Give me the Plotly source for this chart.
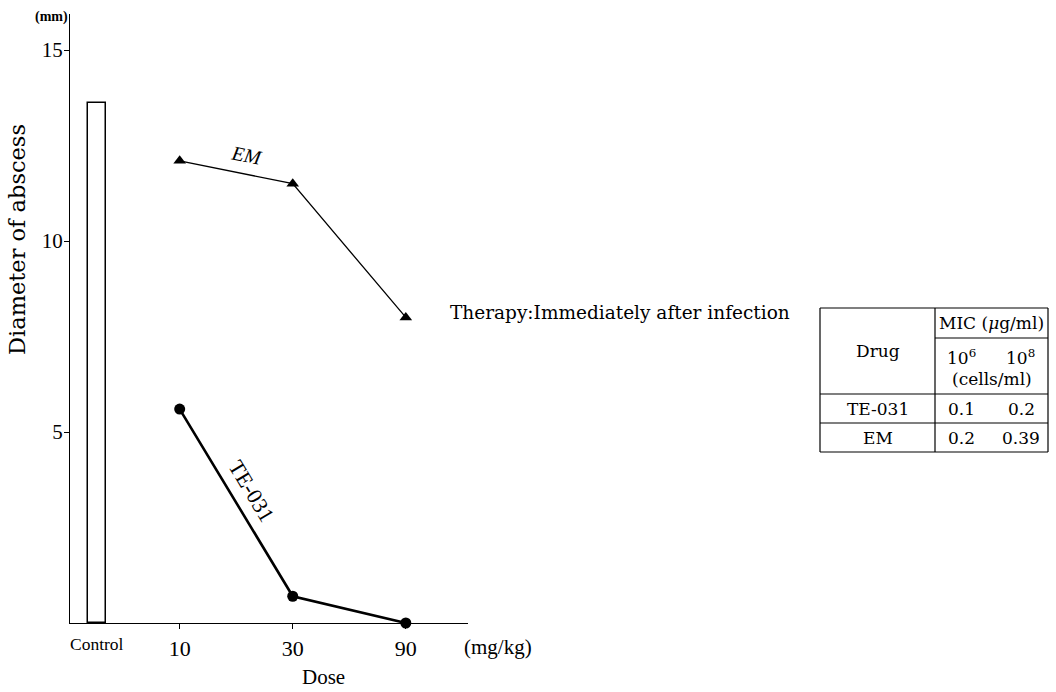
import plotly.graph_objects as go

# ---- data -------------------------------------------------------------
dose_labels = ["10", "30", "90"]          # mg/kg
dose_pos = [1, 2, 3]                      # evenly spaced dose categories
em_diam = [12.1, 11.5, 8.0]               # EM, diameter of abscess (mm)
te031_diam = [5.6, 0.7, 0.0]              # TE-031, diameter of abscess (mm)
control_pos = [0.265]
control_diam = [13.6]

y_ticks = [5, 10, 15]

table_drugs = ["TE-031", "EM"]
mic_1e6 = ["0.1", "0.2"]
mic_1e8 = ["0.2", "0.39"]

SERIF = "Liberation Serif, Times New Roman, serif"
WIDE = "DejaVu Serif, serif"

# ---- page geometry (pixels) -------------------------------------------
W, H = 1056, 692
ML, MR, MT, MB = 70, 6, 14, 69
PW, PH = W - ML - MR, H - MT - MB


def px(x):
    return (x - ML) / PW


def py(y):
    return (H - MB - y) / PH


fig = go.Figure()

fig.add_trace(go.Bar(
    x=control_pos, y=control_diam, width=0.16,
    marker=dict(color="white", line=dict(color="black", width=1.5)),
    showlegend=False, hoverinfo="skip",
))

fig.add_trace(go.Scatter(
    x=dose_pos, y=em_diam, mode="lines+markers",
    line=dict(color="black", width=1.3),
    marker=dict(symbol="triangle-up", size=11, color="black"),
    showlegend=False,
))

fig.add_trace(go.Scatter(
    x=dose_pos, y=te031_diam, mode="lines+markers",
    line=dict(color="black", width=2.6),
    marker=dict(symbol="circle", size=11, color="black"),
    showlegend=False, cliponaxis=False,
))

annotations = []

# series labels along their first segments
annotations.append(dict(
    x=(dose_pos[0] + dose_pos[1]) / 2, y=(em_diam[0] + em_diam[1]) / 2,
    text="<i>EM</i>", showarrow=False, textangle=11,
    xanchor="center", yanchor="middle",
    xshift=10, yshift=17, font=dict(family=SERIF, size=20, color="black"),
))
annotations.append(dict(
    x=(dose_pos[0] + dose_pos[1]) / 2, y=(te031_diam[0] + te031_diam[1]) / 2,
    text="TE-031", showarrow=False, textangle=59,
    xanchor="center", yanchor="middle",
    xshift=15, yshift=12, font=dict(family=SERIF, size=22, color="black"),
))


def paper_text(x, y, text, font, **kw):
    d = dict(x=px(x), y=py(y), xref="paper", yref="paper", text=text,
             showarrow=False, xanchor="center", yanchor="middle", font=font)
    d.update(kw)
    annotations.append(d)


# axis captions
paper_text(51, 17, "<b>(mm)</b>", dict(family=SERIF, size=14, color="black"))
paper_text(17, 240, "Diameter of abscess",
           dict(family=WIDE, size=22.5, color="black"), textangle=-90)
paper_text(323, 677, "Dose", dict(family=SERIF, size=21, color="black"))
paper_text(498, 647, "(mg/kg)", dict(family=SERIF, size=21, color="black"))
paper_text(448, 312, "Therapy:Immediately after infection",
           dict(family=WIDE, size=18.5, color="black"), xanchor="left")
annotations.append(dict(
    x=control_pos[0], y=0, xref="x", yref="y", text="Control",
    xanchor="center", yanchor="middle", yshift=-21, showarrow=False,
    font=dict(family=SERIF, size=17.5, color="black"),
))

# ---- MIC table ---------------------------------------------------------
tx0, tx1, tx2 = 820, 935, 1048           # column edges
ty0, ty1, ty2, ty3, ty4 = 308, 338, 394, 423, 452   # row edges
shapes = []


def hline(x_a, x_b, y):
    shapes.append(dict(type="line", xref="paper", yref="paper",
                       x0=px(x_a), x1=px(x_b), y0=py(y), y1=py(y),
                       line=dict(color="black", width=1.2)))


def vline(x, y_a, y_b):
    shapes.append(dict(type="line", xref="paper", yref="paper",
                       x0=px(x), x1=px(x), y0=py(y_a), y1=py(y_b),
                       line=dict(color="black", width=1.2)))


hline(tx0, tx2, ty0)
hline(tx1, tx2, ty1)
hline(tx0, tx2, ty2)
hline(tx0, tx2, ty3)
hline(tx0, tx2, ty4)
vline(tx0, ty0, ty4)
vline(tx1, ty0, ty4)
vline(tx2, ty0, ty4)

tfont = dict(family=WIDE, size=17, color="black")

paper_text((tx1 + tx2) / 2, (ty0 + ty1) / 2, "MIC (<i>μ</i>g/ml)", tfont)
paper_text((tx0 + tx1) / 2, (ty0 + ty2) / 2, "Drug", tfont)
paper_text(961, 357, "10<sup>6</sup>", tfont)
paper_text(1020, 357, "10<sup>8</sup>", tfont)
paper_text((tx1 + tx2) / 2, 379, "(cells/ml)", tfont)
row_mid = [(ty2 + ty3) / 2, (ty3 + ty4) / 2]
for drug, a, b, ym in zip(table_drugs, mic_1e6, mic_1e8, row_mid):
    paper_text((tx0 + tx1) / 2, ym, drug, tfont)
    paper_text(961, ym, a, tfont)
    paper_text(1021, ym, b, tfont)

fig.update_layout(
    width=W, height=H,
    margin=dict(l=ML, r=MR, t=MT, b=MB, pad=0),
    paper_bgcolor="white", plot_bgcolor="white",
    xaxis=dict(
        domain=[0, px(468)], range=[0.03, 3.55],
        tickvals=dose_pos, ticktext=dose_labels,
        showline=True, linecolor="black", linewidth=1.3,
        ticks="outside", ticklen=5, tickcolor="black", tickwidth=1.2,
        showgrid=False, zeroline=False,
        tickfont=dict(family=SERIF, size=22, color="black"),
    ),
    yaxis=dict(
        range=[0, PH / 38.2],
        tickvals=y_ticks,
        showline=True, linecolor="black", linewidth=1.3,
        ticks="outside", ticklen=5, tickcolor="black", tickwidth=1.2,
        showgrid=False, zeroline=False, ticklabelstandoff=-3,
        tickfont=dict(family=SERIF, size=21, color="black"),
    ),
    annotations=annotations,
    shapes=shapes,
    bargap=0,
)

fig.write_html("out.html")
